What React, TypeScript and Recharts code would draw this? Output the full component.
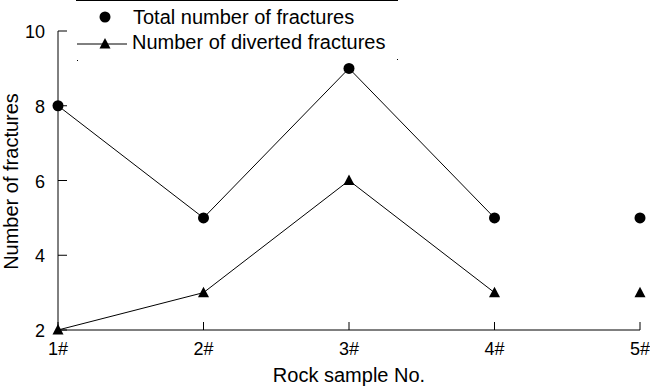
import { LineChart, Line, XAxis, YAxis } from "recharts"

const samples = ["1#", "2#", "3#", "4#", "5#"]
const totalFractures = [8, 5, 9, 5, 5]
const divertedFractures = [2, 3, 6, 3, 3]
const yTicks = [2, 4, 6, 8, 10]
// only the first four samples are joined by a line in the original
const joined = 4

const data = samples.map((s, i) => ({
  sample: s,
  total: totalFractures[i],
  diverted: divertedFractures[i],
  totalLine: i < joined ? totalFractures[i] : null,
  divertedLine: i < joined ? divertedFractures[i] : null
}))

const font = "'Liberation Sans', Arial, sans-serif"

const CircleDot = (props: any) => {
  const { cx, cy } = props
  if (cx == null || cy == null) return null
  return <circle cx={cx} cy={cy} r={5.5} fill="#000" />
}

const TriDot = (props: any) => {
  const { cx, cy } = props
  if (cx == null || cy == null) return null
  return <path d={`M${cx},${cy - 6} L${cx + 5.5},${cy + 4.5} L${cx - 5.5},${cy + 4.5} Z`} fill="#000" />
}

const XTick = (props: any) => {
  const { x, y, payload } = props
  return (
    <g>
      <line x1={x} y1={y} x2={x} y2={y - 8} stroke="#000" />
      <text x={x} y={y + 25} textAnchor="middle" fontSize={18} fontFamily={font} fill="#000">
        {payload.value}
      </text>
    </g>
  )
}

const YTick = (props: any) => {
  const { x, y, payload } = props
  return (
    <g>
      <line x1={x} y1={y} x2={x + 9} y2={y} stroke="#000" />
      <text x={x - 13} y={y + 7} textAnchor="end" fontSize={18} fontFamily={font} fill="#000">
        {payload.value}
      </text>
    </g>
  )
}

// legend drawn as an overlay box, like the white framed legend of the original
const LegendBox = () => (
  <div style={{ position: "absolute", left: 76, top: 0, width: 322, height: 61, background: "#fff", borderTop: "1px solid #000" }}>
    <svg width={322} height={60} style={{ display: "block" }}>
      <circle cx={29} cy={16} r={5.5} fill="#000" />
      <text x={57} y={23} fontSize={20} fontFamily={font} fill="#000">Total number of fractures</text>
      <line x1={1} y1={43} x2={51} y2={43} stroke="#000" />
      <path d="M29,37 L34.5,47.5 L23.5,47.5 Z" fill="#000" />
      <text x={56} y={48} fontSize={20} fontFamily={font} fill="#000">Number of diverted fractures</text>
      <rect x={1} y={59} width={1} height={1} fill="#000" />
      <rect x={321} y={58} width={1} height={1} fill="#000" />
    </svg>
  </div>
)

export default function App() {
  return (
    <div style={{ position: "absolute", left: 0, top: 0, width: 650, height: 389, background: "#fff" }}>
      <LineChart width={650} height={389} data={data} margin={{ top: 31, right: 10, bottom: 0, left: 0 }}>
        <XAxis
          dataKey="sample"
          height={59}
          axisLine={{ stroke: "#000" }}
          tickLine={false}
          tickSize={0}
          tickMargin={0}
          tick={<XTick />}
          label={({ viewBox }: any) => (
            <text
              x={viewBox.x + viewBox.width / 2}
              y={viewBox.y + 52}
              textAnchor="middle"
              fontSize={20}
              fontFamily={font}
              fill="#000"
            >
              Rock sample No.
            </text>
          )}
        />
        <YAxis
          width={58}
          domain={[2, 10]}
          ticks={yTicks}
          axisLine={{ stroke: "#000" }}
          tickLine={false}
          tickSize={0}
          tickMargin={0}
          tick={<YTick />}
          label={({ viewBox }: any) => {
            const cy = viewBox.y + viewBox.height / 2 + 1
            return (
              <text
                x={18}
                y={cy}
                transform={`rotate(-90, 18, ${cy})`}
                textAnchor="middle"
                fontSize={20}
                fontFamily={font}
                fill="#000"
              >
                Number of fractures
              </text>
            )
          }}
        />
        <Line dataKey="totalLine" stroke="#000" strokeWidth={1} dot={false} activeDot={false} isAnimationActive={false} />
        <Line dataKey="divertedLine" stroke="#000" strokeWidth={1} dot={false} activeDot={false} isAnimationActive={false} />
        <Line dataKey="total" stroke="none" dot={<CircleDot />} activeDot={false} isAnimationActive={false} />
        <Line dataKey="diverted" stroke="none" dot={<TriDot />} activeDot={false} isAnimationActive={false} />
      </LineChart>
      <LegendBox />
    </div>
  )
}
